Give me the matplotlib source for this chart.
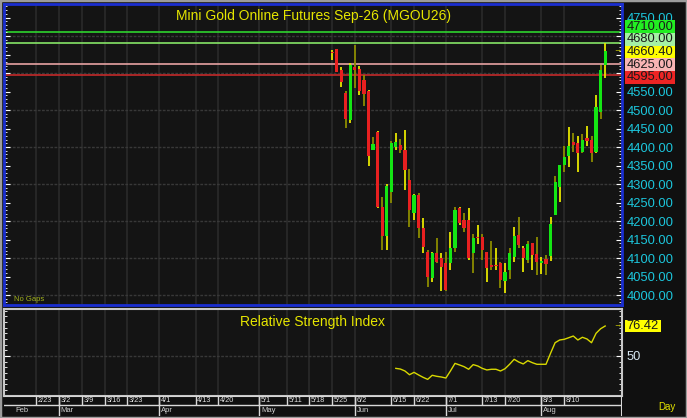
import numpy as np
import matplotlib.pyplot as plt
from matplotlib.ticker import MultipleLocator, FixedLocator, FuncFormatter
from matplotlib.patches import Rectangle

plt.rcParams['font.family'] = ['Liberation Sans', 'DejaVu Sans']

# daily bars, oldest first; slot 0 is the first bar (week of 5/25)
opens = [4658, 4664, 4608, 4545, 4473, 4615, 4612, 4581, 4552, 4393,
         4440, 4237, 4159, 4279, 4401, 4405, 4393, 4311, 4221, 4270,
         4180, 4117, 4045, 4113, 4100, 4086, 4086, 4126, 4234, 4203,
         4203, 4113, 4158, 4158, 4117, 4079, 4081, 4086, 4039, 4068,
         4104, 4162, 4126, 4095, 4140, 4110, 4087, 4097, 4105, 4216,
         4293, 4351, 4376, 4414, 4410, 4387, 4425, 4419, 4387, 4495,
         4622]
highs = [4661, 4666, 4617, 4552, 4626, 4675, 4618, 4596, 4554, 4427,
         4443, 4264, 4299, 4415, 4437, 4423, 4446, 4340, 4272, 4275,
         4207, 4122, 4115, 4153, 4113, 4117, 4171, 4239, 4239, 4221,
         4234, 4166, 4189, 4166, 4117, 4146, 4126, 4090, 4086, 4126,
         4185, 4210, 4133, 4147, 4140, 4158, 4104, 4108, 4212, 4322,
         4351, 4403, 4453, 4439, 4430, 4434, 4457, 4430, 4541, 4622,
         4680]
lows = [4635, 4602, 4563, 4452, 4464, 4559, 4541, 4510, 4350, 4392,
        4234, 4123, 4123, 4250, 4392, 4383, 4284, 4185, 4203, 4153,
        4113, 4023, 4036, 4086, 4010, 4012, 4068, 4117, 4190, 4171,
        4095, 4059, 4139, 4095, 4036, 4068, 4068, 4018, 4005, 4043,
        4090, 4128, 4063, 4086, 4068, 4054, 4057, 4054, 4093, 4216,
        4252, 4333, 4347, 4387, 4333, 4383, 4403, 4360, 4385, 4475,
        4586]
closes = [4654, 4604, 4577, 4477, 4621, 4609, 4552, 4543, 4376, 4408,
          4237, 4159, 4295, 4410, 4414, 4393, 4338, 4230, 4270, 4180,
          4131, 4050, 4113, 4090, 4077, 4014, 4126, 4230, 4194, 4180,
          4099, 4153, 4153, 4122, 4072, 4077, 4079, 4041, 4063, 4113,
          4160, 4135, 4099, 4138, 4108, 4090, 4093, 4085, 4192, 4306,
          4351, 4374, 4403, 4405, 4383, 4419, 4417, 4385, 4509, 4608,
          4660.40]

# RSI starts at bar 14
rsi_start = 14
rsi_values = [39.1, 38.5, 36.8, 33.5, 35.6, 33.3, 31.2, 29.4, 33.0, 32.1,
              31.5, 30.6, 36.8, 43.5, 42.1, 40.6, 38.3, 42.4, 41.2, 39.1,
              37.7, 38.3, 38.3, 36.8, 38.8, 42.7, 47.1, 44.7, 43.0, 45.9,
              44.1, 42.7, 42.7, 42.7, 52.4, 61.7, 64.1, 64.7, 66.1, 67.6,
              64.1, 66.5, 65.0, 61.7, 70.0, 74.0, 76.42]

# horizontal price levels and the price-scale flags
level_values = [4710.0, 4680.0, 4625.0, 4595.0]
level_colors = ['#2ed42e', '#86e466', '#e8a2a2', '#c42a2a']
flag_values = [4710.0, 4680.0, 4660.40, 4625.0, 4595.0]
flag_colors = ['#22ee22', '#a4f0a4', '#ffff00', '#f8b4b4', '#ee2424']

# date scale (slot of first bar of each labelled week / month)
week_slots = [-65, -60, -55, -50, -45, -38, -30, -25, -16, -10,
              -5, 0, 5, 13, 18, 25, 33, 38, 46, 51]
week_labels = ['2/23', '3/2', '3/9', '3/16', '3/23', '4/1', '4/13', '4/20', '5/1', '5/11',
               '5/18', '5/25', '6/2', '6/15', '6/22', '7/1', '7/13', '7/20', '8/3', '8/10']
month_slots = [-70, -60, -38, -16, 5, 25, 46]
month_labels = ['Feb', 'Mar', 'Apr', 'May', 'Jun', 'Jul', 'Aug']

BG = '#141414'
YEL = '#e6e600'
CYAN = '#1cc6dc'
W, H = 687, 418

opens = np.array(opens, float)
highs = np.array(highs, float)
lows = np.array(lows, float)
closes = np.array(closes, float)
x = np.arange(len(closes))

fig = plt.figure(figsize=(W / 100, H / 100), dpi=100, facecolor='#101010')
ax = fig.add_axes([4 / W, 1 - 305 / H, 618 / W, 301 / H], facecolor=BG)
ax2 = fig.add_axes([4 / W, 1 - 395.5 / H, 618 / W, 86.5 / H], facecolor=BG, sharex=ax)
axd = fig.add_axes([4 / W, 1 - 416 / H, 618 / W, 20.5 / H], facecolor=BG, sharex=ax)

ax.set_xlim(-72.1, 63.7)
ax.set_ylim(3973, 4786.6)
ax2.set_ylim(15.2, 91.4)
axd.set_ylim(0, 1)

# grid
for s in week_slots:
    ax.axvline(s, color='#2a2a2a', lw=1.2, zorder=0)
    ax2.axvline(s, color='#2a2a2a', lw=1.2, zorder=0)
for g in np.arange(4000, 4800, 100):
    ax.axhline(g, color='#383838', lw=1.0, ls=(0, (2, 1)), zorder=0)
ax2.axhline(50, color='#383838', lw=1.0, ls=(0, (2, 1)), zorder=0)

# price levels
for v, c in zip(level_values, level_colors):
    ax.axhline(v, color=c, lw=1.2, zorder=1)

# candles
up = closes >= opens
body_col = np.where(up, '#14e614', '#e82020')
wick_col = [YEL if i % 2 == 0 else '#8c8c00' for i in x]
ax.vlines(x, lows, highs, colors=wick_col, lw=1.3, zorder=3)
ax.bar(x, np.maximum(np.abs(closes - opens), 3), bottom=np.minimum(opens, closes),
       width=0.7, color=body_col, zorder=4)

ax.text(0.5, 0.985, 'Mini Gold Online Futures Sep-26 (MGOU26)', transform=ax.transAxes,
        ha='center', va='top', color=YEL, fontsize=10)
ax.text(0.016, 0.006, 'No Gaps', transform=ax.transAxes, ha='left', va='bottom',
        color='#a4b41c', fontsize=5.5)


# price axis; labels hidden where a flag sits on top of them
def price_label(v, pos):
    if min(abs(v - f) for f in flag_values) < 20:
        return ''
    return f'{v:.2f}'


ax.yaxis.set_major_locator(MultipleLocator(50))
ax.yaxis.set_minor_locator(MultipleLocator(10))
ax.yaxis.set_major_formatter(FuncFormatter(price_label))
ax.tick_params(axis='y', which='both', left=True, right=True, labelleft=False, labelright=True,
               direction='in', color='white', labelcolor=CYAN, labelsize=9.3, pad=3.4)
ax.tick_params(axis='y', which='major', length=4)
ax.tick_params(axis='y', which='minor', length=2)
ax.tick_params(axis='x', which='both', bottom=False, labelbottom=False)
for sp in ax.spines.values():
    sp.set_color('#1a2ed0')
    sp.set_linewidth(2)


def stack_flags(a, values, h_px, drop_px=2.5):
    vals = np.asarray(values, float)
    pts = a.transData.transform(np.column_stack([np.zeros(len(vals)), vals]))[:, 1] - drop_px
    placed = np.empty(len(vals))
    prev = -np.inf
    for i in np.argsort(vals):
        placed[i] = max(pts[i], prev + h_px)
        prev = placed[i]
    back = a.transData.inverted().transform(np.column_stack([np.zeros(len(vals)), placed]))[:, 1]
    unit = a.transData.transform((0, 1))[1] - a.transData.transform((0, 0))[1]
    return back, h_px / unit


def draw_flag(a, y, h, text, face, tcolor, width_px):
    tr = a.get_yaxis_transform()
    a.add_patch(Rectangle((1.0055, y - h / 2), width_px / 618, h, transform=tr,
                          facecolor=face, edgecolor='none', clip_on=False, zorder=10))
    a.text(1.0075, y, text, transform=tr, ha='left', va='center', fontsize=9.3,
           color=tcolor, clip_on=False, zorder=11)


flag_y, flag_h = stack_flags(ax, flag_values, 12.7)
for v, yv, c in zip(flag_values, flag_y, flag_colors):
    draw_flag(ax, yv, flag_h, f'{v:.2f}', c, '#1a1a1a', 50)
ax.text(len(closes) + 1.6, closes[-1], '→', color=YEL, fontsize=6, ha='center', va='center',
        zorder=6)

# RSI panel
rx = np.arange(rsi_start, rsi_start + len(rsi_values))
ax2.plot(rx, rsi_values, color='#d8d800', lw=1.0, zorder=3)
ax2.text(0.5, 0.93, 'Relative Strength Index', transform=ax2.transAxes, ha='center',
         va='top', color=YEL, fontsize=10)
ax2.yaxis.set_major_locator(FixedLocator([50]))
ax2.yaxis.set_minor_locator(MultipleLocator(5))
ax2.tick_params(axis='y', which='both', left=True, right=True, labelleft=False, labelright=True,
                direction='in', color='white', labelcolor='#d6e6f0', labelsize=9.3, pad=3.4)
ax2.tick_params(axis='y', which='major', length=4)
ax2.tick_params(axis='y', which='minor', length=2.5)
ax2.tick_params(axis='x', which='both', bottom=False, labelbottom=False)
for sp in ax2.spines.values():
    sp.set_color('#c8c8c8')
    sp.set_linewidth(1.5)
rsi_y, rsi_h = stack_flags(ax2, [rsi_values[-1]], 12.7, drop_px=0)
draw_flag(ax2, rsi_y[0], rsi_h, f'{rsi_values[-1]:.2f}', '#ffff00', '#1a1a1a', 36)
ax2.text(len(closes) + 1.6, rsi_values[-1], '→', color=YEL, fontsize=6, ha='center',
         va='center', zorder=6)

# date scale
split = 0.537
axd.axis('off')
axd.axhline(split, color='#d8d8d8', lw=1.0)
axd.axhline(1, color='#d8d8d8', lw=1.2)
axd.axvline(axd.get_xlim()[1], color='#d8d8d8', lw=1.5)
axd.vlines(week_slots, split, 1, colors='#d8d8d8', lw=1.0)
axd.vlines(month_slots[1:], 0, 1, colors='#d8d8d8', lw=1.0)
for s, lab in zip(week_slots, week_labels):
    axd.annotate(lab, (s, (1 + split) / 2), xytext=(1.2, 0), textcoords='offset points',
                 ha='left', va='center', fontsize=5.3, color='#e0e0e0')
for s, lab in zip(month_slots, month_labels):
    axd.annotate(lab, (s, split / 2), xytext=(1.2, 0), textcoords='offset points',
                 ha='left', va='center', fontsize=5.5, color='#d0d0d0')

fig.text(667 / W, 1 - 407 / H, 'Day', ha='center', va='center', color=YEL, fontsize=7)
fig.add_artist(Rectangle((0, 0), 1, 1, transform=fig.transFigure, fill=False,
                         edgecolor='#9c9c9c', lw=2.5))

fig.savefig('out.png', dpi=100, facecolor=fig.get_facecolor())
